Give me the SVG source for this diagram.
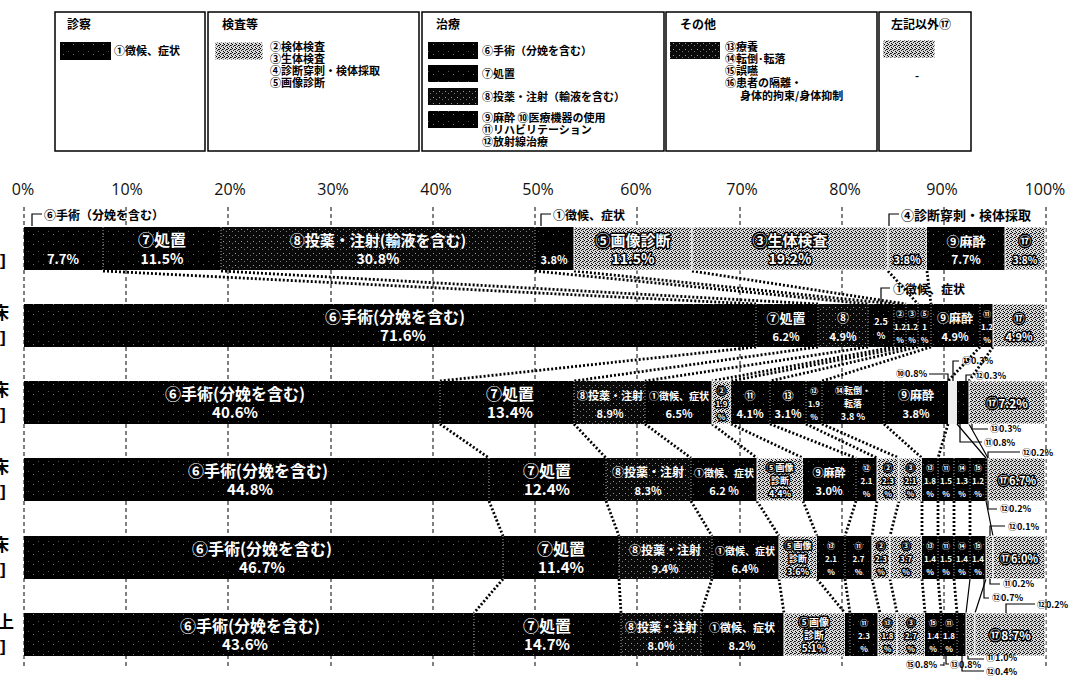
<svg xmlns="http://www.w3.org/2000/svg" width="1072" height="678" viewBox="0 0 1072 678">
<defs>
<pattern id="pb" width="10" height="10" patternUnits="userSpaceOnUse"><rect width="10" height="10" fill="#000"/><rect x="3" y="4" width="1" height="1" fill="#777"/><rect x="8" y="1" width="1" height="1" fill="#555"/></pattern>
<pattern id="pd" width="6" height="6" patternUnits="userSpaceOnUse"><rect width="6" height="6" fill="#0a0a0a"/><rect x="1" y="1" width="1" height="1" fill="#999"/><rect x="4" y="3" width="1" height="1" fill="#777"/></pattern>
<pattern id="pg" width="4" height="4" patternUnits="userSpaceOnUse"><rect width="4" height="4" fill="#d8d8d8"/><rect x="0" y="0" width="1" height="1" fill="#000"/><rect x="2" y="1" width="1" height="1" fill="#000"/><rect x="1" y="2" width="1" height="1" fill="#222"/><rect x="3" y="3" width="1" height="1" fill="#000"/><rect x="3" y="1" width="1" height="1" fill="#444"/></pattern>
<style>
text{font-family:"Noto Sans CJK JP","Noto Sans CJK SC",sans-serif;font-weight:700}
.b{fill:url(#pb)}
.d{fill:url(#pd)}
.y{fill:url(#pg);stroke:#fff;stroke-width:1}
.w{fill:#fff;text-anchor:middle}
.o{fill:#fff;text-anchor:middle;stroke:#000;stroke-width:3;paint-order:stroke;stroke-linejoin:round}
.f16{font-size:16px}.f15{font-size:15px}.f14{font-size:14px}.f13{font-size:13px}.f12{font-size:12px}.f11{font-size:11px}.f10{font-size:10px}.f9{font-size:9px}.f8{font-size:8px}
.lt{font-size:12px;fill:#000}
.lg{font-size:11px;fill:#000}
.ax{font-family:"Open Sans","Liberation Sans",sans-serif;font-weight:400;font-size:16px;fill:#111;text-anchor:middle}
.k{font-size:9px;fill:#000}
.box{fill:#fff;stroke:#000;stroke-width:1.5}
.grid{stroke:#000;stroke-width:1;stroke-dasharray:4 3;fill:none}
.c{stroke:#000;stroke-width:2.8;stroke-dasharray:2 2;fill:none}
.ln{stroke:#000;stroke-width:1.2;fill:none}
.dv{stroke:#aaa;stroke-width:1;stroke-dasharray:1 2;fill:none}
</style>
</defs>
<rect width="1072" height="678" fill="#fff"/>

<g id="legend">
<g id="legend-shinsatsu">
<rect class="box" x="55" y="12" width="150" height="139"/>
<text class="lt" x="67" y="29">診察</text>
<rect class="b" x="60" y="42" width="51" height="18"/>
<text class="lg" x="114" y="55">①徴候、症状</text>
</g>
<g id="legend-kensa">
<rect class="box" x="208" y="12" width="211" height="139"/>
<text class="lt" x="222" y="29">検査等</text>
<rect class="y" x="215" y="42" width="48" height="18"/>
<text class="lg" x="270" y="51">②検体検査</text>
<text class="lg" x="270" y="63">③生体検査</text>
<text class="lg" x="270" y="75">④診断穿刺・検体採取</text>
<text class="lg" x="270" y="87">⑤画像診断</text>
</g>
<g id="legend-chiryo">
<rect class="box" x="422" y="12" width="242" height="139"/>
<text class="lt" x="436" y="29">治療</text>
<rect class="b" x="428" y="42" width="50" height="17"/>
<rect class="b" x="428" y="65" width="50" height="17"/>
<rect class="d" x="428" y="88" width="50" height="17"/>
<rect class="b" x="428" y="111" width="50" height="17"/>
<text class="lg" x="482" y="55">⑥手術（分娩を含む）</text>
<text class="lg" x="482" y="78">⑦処置</text>
<text class="lg" x="482" y="101">⑧投薬・注射（輸液を含む）</text>
<text class="lg" x="482" y="122">⑨麻酔 ⑩医療機器の使用</text>
<text class="lg" x="482" y="134">⑪リハビリテーション</text>
<text class="lg" x="482" y="146">⑫放射線治療</text>
</g>
<g id="legend-sonota">
<rect class="box" x="666" y="12" width="211" height="139"/>
<text class="lt" x="680" y="29">その他</text>
<rect class="d" x="670" y="42" width="50" height="17"/>
<text class="lg" x="725" y="51">⑬療養</text>
<text class="lg" x="725" y="63">⑭転倒･転落</text>
<text class="lg" x="725" y="75">⑮誤嚥</text>
<text class="lg" x="725" y="87">⑯患者の隔離・</text>
<text class="lg" x="740" y="100">身体的拘束/身体抑制</text>
</g>
<g id="legend-other">
<rect class="box" x="879" y="12" width="92" height="139"/>
<text class="lt" x="891" y="29">左記以外⑰</text>
<rect class="y" x="883" y="40" width="52" height="18"/>
<text class="lg" x="915" y="80">-</text>
</g>
</g>

<g id="axis">
<text class="ax" x="23" y="195">0%</text>
<text class="ax" x="127" y="195">10%</text>
<text class="ax" x="230" y="195">20%</text>
<text class="ax" x="333" y="195">30%</text>
<text class="ax" x="436" y="195">40%</text>
<text class="ax" x="538" y="195">50%</text>
<text class="ax" x="636" y="195">60%</text>
<text class="ax" x="742" y="195">70%</text>
<text class="ax" x="845" y="195">80%</text>
<text class="ax" x="942" y="195">90%</text>
<text class="ax" x="1045" y="195">100%</text>
<path class="grid" d="M24 207V668M126 207V668M228 207V668M331 207V668M433 207V668M535 207V668M637 207V668M740 207V668M842 207V668M944 207V668M1046 207V668"/>
</g>

<g id="row-labels" style="font-size:17px;font-weight:400">
<text x="0" y="266" style="font-family:'Liberation Sans',sans-serif">]</text>
<text x="-8" y="319">床</text>
<text x="0" y="343" style="font-family:'Liberation Sans',sans-serif">]</text>
<text x="-8" y="396">床</text>
<text x="0" y="420" style="font-family:'Liberation Sans',sans-serif">]</text>
<text x="-8" y="473">床</text>
<text x="0" y="497" style="font-family:'Liberation Sans',sans-serif">]</text>
<text x="-8" y="551">床</text>
<text x="0" y="575" style="font-family:'Liberation Sans',sans-serif">]</text>
<text x="-3" y="628">上</text>
<text x="0" y="652" style="font-family:'Liberation Sans',sans-serif">]</text>
</g>

<g id="connectors">
<path class="c" d="M103 271L756 304M221 271L818 304M535 271L868 304M574 271L894 304M692 271L906 304M888 271L918 304M927 271L931 304"/>
<path class="c" d="M756 347L440 381M818 347L574 381M868 347L645 381M894 347L712 381M906 347L731 381M918 347L770 381M931 347L822 381M980 347L948 381M993 347L969 381"/>
<path class="c" d="M440 424L489 458M574 424L606 458M645 424L691 458M712 424L757 458M731 424L803 458M770 424L856 458M806 424L877 458M822 424L899 458M884 424L922 458M948 424L938 458"/>
<path class="c" d="M489 501L503 536M606 501L619 536M691 501L712 536M757 501L779 536M803 501L817 536M856 501L845 536M877 501L872 536M899 501L890 536M922 501L922 536M938 501L938 536M954 501L954 536M970 501L970 536"/>
<path class="c" d="M503 579L474 613M619 579L621 613M712 579L701 613M779 579L784 613M817 579L845 613M845 579L850 613M872 579L880 613M890 579L897 613M922 579L925 613M938 579L941 613M954 579L957 613"/>
<path class="ln" d="M957 424L986 458M969 424L988 458M986 501L993 536M970 579L966 613M986 579L975 613"/>
</g>

<g id="row1">
<rect class="b" x="24" y="227" width="79" height="43"/>
<rect class="b" x="103" y="227" width="118" height="43"/>
<rect class="d" x="221" y="227" width="314" height="43"/>
<rect class="b" x="535" y="227" width="39" height="43"/>
<rect class="y" x="574" y="227" width="118" height="43"/>
<rect class="y" x="692" y="227" width="196" height="43"/>
<rect class="y" x="888" y="227" width="39" height="43"/>
<rect class="b" x="927" y="227" width="78" height="43"/>
<rect class="y" x="1005" y="227" width="40" height="43"/>
<path class="dv" d="M103 227V270M221 227V270M535 227V270"/>
<text class="w f13" x="63" y="264">7.7%</text>
<text class="w f16" x="162" y="246">⑦処置</text>
<text class="w f14" x="162" y="264">11.5%</text>
<text class="w f15" x="378" y="246">⑧投薬・注射(輸液を含む)</text>
<text class="w f14" x="378" y="264">30.8%</text>
<text class="w f11" x="554" y="264">3.8%</text>
<text class="o f15" x="633" y="246">⑤画像診断</text>
<text class="o f14" x="633" y="264">11.5%</text>
<text class="o f15" x="790" y="246">③生体検査</text>
<text class="o f14" x="790" y="264">19.2%</text>
<text class="o f11" x="907" y="264">3.8%</text>
<text class="w f13" x="966" y="246">⑨麻酔</text>
<text class="w f12" x="966" y="264">7.7%</text>
<text class="o f12" x="1025" y="246">⑰</text>
<text class="o f10" x="1025" y="264">3.8%</text>
</g>

<g id="row2">
<rect class="b" x="24" y="304" width="732" height="43"/>
<rect class="b" x="756" y="304" width="62" height="43"/>
<rect class="d" x="818" y="304" width="50" height="43"/>
<rect class="b" x="868" y="304" width="26" height="43"/>
<rect class="b" x="894" y="304" width="12" height="43"/>
<rect class="b" x="906" y="304" width="12" height="43"/>
<rect class="b" x="918" y="304" width="13" height="43"/>
<rect class="b" x="931" y="304" width="49" height="43"/>
<rect class="b" x="980" y="304" width="13" height="43"/>
<rect class="y" x="993" y="304" width="52" height="43"/>
<path class="dv" d="M756 304V347M818 304V347M868 304V347M894 304V347M906 304V347M918 304V347M931 304V347M980 304V347"/>
<text class="w f16" x="395" y="323">⑥手術(分娩を含む)</text>
<text class="w f15" x="403" y="341">71.6%</text>
<text class="w f13" x="786" y="323">⑦処置</text>
<text class="w f11" x="786" y="341">6.2%</text>
<text class="w f12" x="843" y="323">⑧</text>
<text class="w f11" x="843" y="341">4.9%</text>
<text class="w f9" x="881" y="325">2.5</text>
<text class="w f9" x="881" y="339">%</text>
<text class="w f8" x="900" y="317">②</text><text class="w f8" x="900" y="330">1.2</text><text class="w f8" x="900" y="343">%</text>
<text class="w f8" x="912" y="317">③</text><text class="w f8" x="912" y="330">1.2</text><text class="w f8" x="912" y="343">%</text>
<text class="w f8" x="924.5" y="317">⑤</text><text class="w f8" x="924.5" y="330">1</text><text class="w f8" x="924.5" y="343">%</text>
<text class="w f12" x="955" y="323">⑨麻酔</text>
<text class="w f11" x="955" y="341">4.9%</text>
<text class="w f8" x="987" y="317">⑪</text><text class="w f8" x="987" y="330">1.2</text><text class="w f8" x="987" y="343">%</text>
<text class="o f11" x="1019" y="323">⑰</text>
<text class="o f11" x="1019" y="341">4.9%</text>
</g>

<g id="row3">
<rect class="b" x="24" y="381" width="416" height="43"/>
<rect class="b" x="440" y="381" width="134" height="43"/>
<rect class="d" x="574" y="381" width="71" height="43"/>
<rect class="b" x="645" y="381" width="67" height="43"/>
<rect class="y" x="712" y="381" width="19" height="43"/>
<rect class="b" x="731" y="381" width="39" height="43"/>
<rect class="b" x="770" y="381" width="36" height="43"/>
<rect class="b" x="806" y="381" width="16" height="43"/>
<rect class="b" x="822" y="381" width="62" height="43"/>
<rect class="b" x="884" y="381" width="64" height="43"/>
<rect x="948" y="381" width="9" height="43" fill="#eee"/>
<rect class="b" x="957" y="381" width="12" height="43"/>
<rect class="y" x="969" y="381" width="76" height="43"/>
<path class="dv" d="M440 381V424M574 381V424M645 381V424M731 381V424M770 381V424M806 381V424M822 381V424M884 381V424"/>
<text class="w f16" x="235" y="400">⑥手術(分娩を含む)</text>
<text class="w f15" x="235" y="418">40.6%</text>
<text class="w f16" x="510" y="400">⑦処置</text>
<text class="w f15" x="510" y="418">13.4%</text>
<text class="w f11" x="610" y="400">⑧投薬・注射</text>
<text class="w f11" x="610" y="418">8.9%</text>
<text class="w f10" x="679" y="400">①徴候、症状</text>
<text class="w f11" x="679" y="418">6.5%</text>
<text class="o f8" x="721.5" y="394">②</text><text class="o f8" x="721.5" y="407">1.9</text><text class="o f8" x="721.5" y="420">%</text>
<text class="w f11" x="750" y="400">⑪</text>
<text class="w f11" x="750" y="418">4.1%</text>
<text class="w f11" x="788" y="400">⑬</text>
<text class="w f11" x="788" y="418">3.1%</text>
<text class="w f8" x="814" y="394">⑫</text><text class="w f8" x="814" y="407">1.9</text><text class="w f8" x="814" y="420">%</text>
<text class="w f9" x="853" y="394">⑭転倒・</text>
<text class="w f9" x="853" y="407">転落</text>
<text class="w f9" x="853" y="420">3.8 %</text>
<text class="w f12" x="916" y="400">⑨麻酔</text>
<text class="w f11" x="916" y="418">3.8%</text>
<text class="o f12" x="1007" y="408">⑰7.2%</text>
</g>

<g id="row4">
<rect class="b" x="24" y="458" width="465" height="43"/>
<rect class="b" x="489" y="458" width="117" height="43"/>
<rect class="d" x="606" y="458" width="85" height="43"/>
<rect class="b" x="691" y="458" width="66" height="43"/>
<rect class="y" x="757" y="458" width="46" height="43"/>
<rect class="b" x="803" y="458" width="53" height="43"/>
<rect class="b" x="856" y="458" width="21" height="43"/>
<rect class="y" x="877" y="458" width="22" height="43"/>
<rect class="y" x="899" y="458" width="23" height="43"/>
<rect class="b" x="922" y="458" width="16" height="43"/>
<rect class="b" x="938" y="458" width="16" height="43"/>
<rect class="b" x="954" y="458" width="16" height="43"/>
<rect class="b" x="970" y="458" width="18" height="43"/>
<rect class="y" x="988" y="458" width="57" height="43"/>
<path class="dv" d="M489 458V501M606 458V501M691 458V501M856 458V501M938 458V501M954 458V501M970 458V501M986 458V501"/>
<text class="w f16" x="258" y="477">⑥手術(分娩を含む)</text>
<text class="w f15" x="250" y="495">44.8%</text>
<text class="w f16" x="547" y="477">⑦処置</text>
<text class="w f15" x="547" y="495">12.4%</text>
<text class="w f12" x="648" y="477">⑧投薬・注射</text>
<text class="w f11" x="648" y="495">8.3%</text>
<text class="w f10" x="724" y="477">①徴候、症状</text>
<text class="w f11" x="724" y="495">6.2 %</text>
<text class="o f9" x="780" y="471">⑤画像</text><text class="o f9" x="780" y="484">診断</text><text class="o f9" x="780" y="497">4.4%</text>
<text class="w f11" x="829" y="477">⑨麻酔</text>
<text class="w f11" x="829" y="495">3.0%</text>
<text class="w f8" x="866.5" y="471">⑫</text><text class="w f8" x="866.5" y="484">2.1</text><text class="w f8" x="866.5" y="497">%</text>
<text class="o f8" x="888" y="471">②</text><text class="o f8" x="888" y="484">2.3</text><text class="o f8" x="888" y="497">%</text>
<text class="o f8" x="910.5" y="471">③</text><text class="o f8" x="910.5" y="484">2.1</text><text class="o f8" x="910.5" y="497">%</text>
<text class="w f8" x="930" y="471">⑬</text><text class="w f8" x="930" y="484">1.8</text><text class="w f8" x="930" y="497">%</text>
<text class="w f8" x="946" y="471">⑪</text><text class="w f8" x="946" y="484">1.5</text><text class="w f8" x="946" y="497">%</text>
<text class="w f8" x="962" y="471">⑭</text><text class="w f8" x="962" y="484">1.3</text><text class="w f8" x="962" y="497">%</text>
<text class="w f8" x="978" y="471">⑮</text><text class="w f8" x="978" y="484">1.2</text><text class="w f8" x="978" y="497">%</text>
<text class="o f11" x="1017" y="485">⑰6.7%</text>
</g>

<g id="row5">
<rect class="b" x="24" y="536" width="479" height="43"/>
<rect class="b" x="503" y="536" width="116" height="43"/>
<rect class="d" x="619" y="536" width="93" height="43"/>
<rect class="b" x="712" y="536" width="67" height="43"/>
<rect class="y" x="779" y="536" width="38" height="43"/>
<rect class="b" x="817" y="536" width="28" height="43"/>
<rect class="b" x="845" y="536" width="27" height="43"/>
<rect class="y" x="872" y="536" width="18" height="43"/>
<rect class="y" x="890" y="536" width="32" height="43"/>
<rect class="b" x="922" y="536" width="16" height="43"/>
<rect class="b" x="938" y="536" width="16" height="43"/>
<rect class="b" x="954" y="536" width="16" height="43"/>
<rect class="b" x="970" y="536" width="16" height="43"/>
<rect class="y" x="986" y="536" width="7" height="43"/>
<rect class="y" x="993" y="536" width="52" height="43"/>
<path class="dv" d="M503 536V579M619 536V579M712 536V579M845 536V579M938 536V579M954 536V579M970 536V579"/>
<text class="w f16" x="262" y="555">⑥手術(分娩を含む)</text>
<text class="w f15" x="262" y="573">46.7%</text>
<text class="w f16" x="561" y="555">⑦処置</text>
<text class="w f15" x="561" y="573">11.4%</text>
<text class="w f12" x="665" y="555">⑧投薬・注射</text>
<text class="w f11" x="665" y="573">9.4%</text>
<text class="w f10" x="745" y="555">①徴候、症状</text>
<text class="w f11" x="745" y="573">6.4%</text>
<text class="o f9" x="798" y="549">⑤画像</text><text class="o f9" x="798" y="562">診断</text><text class="o f9" x="798" y="575">3.6%</text>
<text class="w f8" x="831" y="549">⑬</text><text class="w f8" x="831" y="562">2.1</text><text class="w f8" x="831" y="575">%</text>
<text class="w f8" x="858.5" y="549">⑪</text><text class="w f8" x="858.5" y="562">2.7</text><text class="w f8" x="858.5" y="575">%</text>
<text class="o f8" x="881" y="549">②</text><text class="o f8" x="881" y="562">2.3</text><text class="o f8" x="881" y="575">%</text>
<text class="o f8" x="906" y="549">③</text><text class="o f8" x="906" y="562">3.7</text><text class="o f8" x="906" y="575">%</text>
<text class="w f8" x="930" y="549">⑬</text><text class="w f8" x="930" y="562">1.4</text><text class="w f8" x="930" y="575">%</text>
<text class="w f8" x="946" y="549">⑪</text><text class="w f8" x="946" y="562">1.5</text><text class="w f8" x="946" y="575">%</text>
<text class="w f8" x="962" y="549">⑭</text><text class="w f8" x="962" y="562">1.4</text><text class="w f8" x="962" y="575">%</text>
<text class="w f8" x="978" y="549">⑮</text><text class="w f8" x="978" y="562">1.4</text><text class="w f8" x="978" y="575">%</text>
<text class="o f11" x="1019" y="563">⑰6.0%</text>
</g>

<g id="row6">
<rect class="b" x="24" y="613" width="450" height="43"/>
<rect class="b" x="474" y="613" width="147" height="43"/>
<rect class="d" x="621" y="613" width="80" height="43"/>
<rect class="b" x="701" y="613" width="83" height="43"/>
<rect class="y" x="784" y="613" width="61" height="43"/>
<rect class="b" x="845" y="613" width="5" height="43"/>
<rect class="b" x="850" y="613" width="28" height="43"/>
<rect class="y" x="878" y="613" width="19" height="43"/>
<rect class="y" x="897" y="613" width="28" height="43"/>
<rect class="b" x="925" y="613" width="16" height="43"/>
<rect class="b" x="941" y="613" width="16" height="43"/>
<rect class="b" x="957" y="613" width="9" height="43"/>
<rect class="y" x="966" y="613" width="9" height="43"/>
<rect class="y" x="975" y="613" width="70" height="43"/>
<path class="dv" d="M474 613V656M621 613V656M701 613V656M850 613V656M941 613V656M957 613V656"/>
<text class="w f16" x="250" y="632">⑥手術(分娩を含む)</text>
<text class="w f15" x="245" y="650">43.6%</text>
<text class="w f16" x="547" y="632">⑦処置</text>
<text class="w f15" x="547" y="650">14.7%</text>
<text class="w f12" x="661" y="632">⑧投薬・注射</text>
<text class="w f11" x="661" y="650">8.0%</text>
<text class="w f11" x="742" y="632">①徴候、症状</text>
<text class="w f11" x="742" y="650">8.2%</text>
<text class="o f10" x="814" y="626">⑤画像</text><text class="o f10" x="814" y="639">診断</text><text class="o f10" x="814" y="652">5.1%</text>
<text class="w f8" x="864" y="626">⑪</text><text class="w f8" x="864" y="639">2.3</text><text class="w f8" x="864" y="652">%</text>
<text class="o f8" x="887.5" y="626">⑬</text><text class="o f8" x="887.5" y="639">1.8</text><text class="o f8" x="887.5" y="652">%</text>
<text class="o f8" x="911" y="626">③</text><text class="o f8" x="911" y="639">2.7</text><text class="o f8" x="911" y="652">%</text>
<text class="w f8" x="933" y="626">⑮</text><text class="w f8" x="933" y="639">1.4</text><text class="w f8" x="933" y="652">%</text>
<text class="w f8" x="949" y="626">⑪</text><text class="w f8" x="949" y="639">1.8</text><text class="w f8" x="949" y="652">%</text>
<text class="o f12" x="1010" y="640">⑰8.7%</text>
</g>

<g id="callouts">
<path class="ln" d="M32 226V214H42M541 226V214H551M889 226V214H899M881 304V288H890"/>
<text class="lt" x="44" y="220">⑥手術（分娩を含む）</text>
<text class="lt" x="553" y="220">①徴候、症状</text>
<text class="lt" x="901" y="220" style="font-size:13px">④診断穿刺・検体採取</text>
<text class="lt" x="893" y="294">①徴候、症状</text>
<path class="ln" d="M929 374H948V381M953 381V361H959M966 381V375H972"/>
<text class="k" x="896" y="377">⑩0.8%</text>
<text class="k" x="962" y="364">⑬0.3%</text>
<text class="k" x="975" y="379">⑫0.3%</text>
<path class="ln" d="M960 424V442H982M972 424V429H988M988 458V452H1020"/>
<text class="k" x="990" y="432">⑬0.3%</text>
<text class="k" x="984" y="446">⑪0.8%</text>
<text class="k" x="1022" y="456">⑫0.2%</text>
<path class="ln" d="M988 501V509H997"/>
<text class="k" x="1000" y="512">⑫0.2%</text>
<path class="ln" d="M990 536V526H1005"/>
<text class="k" x="1008" y="530">⑫0.1%</text>
<path class="ln" d="M990 579V584H1000M984 579V598H989"/>
<text class="k" x="1003" y="587">⑪0.2%</text>
<text class="k" x="992" y="601">⑫0.7%</text>
<path class="ln" d="M1006 613V604H1035"/>
<text class="k" x="1037" y="608">⑫0.2%</text>
<path class="ln" d="M946 656V664H949M940 665H944M968 656V659H984M962 656V671H984"/>
<text class="k" x="950" y="668">⑬0.8%</text>
<text class="k" x="906" y="668">⑮0.8%</text>
<text class="k" x="986" y="661">⑪1.0%</text>
<text class="k" x="986" y="675">⑫0.4%</text>
</g>
</svg>
